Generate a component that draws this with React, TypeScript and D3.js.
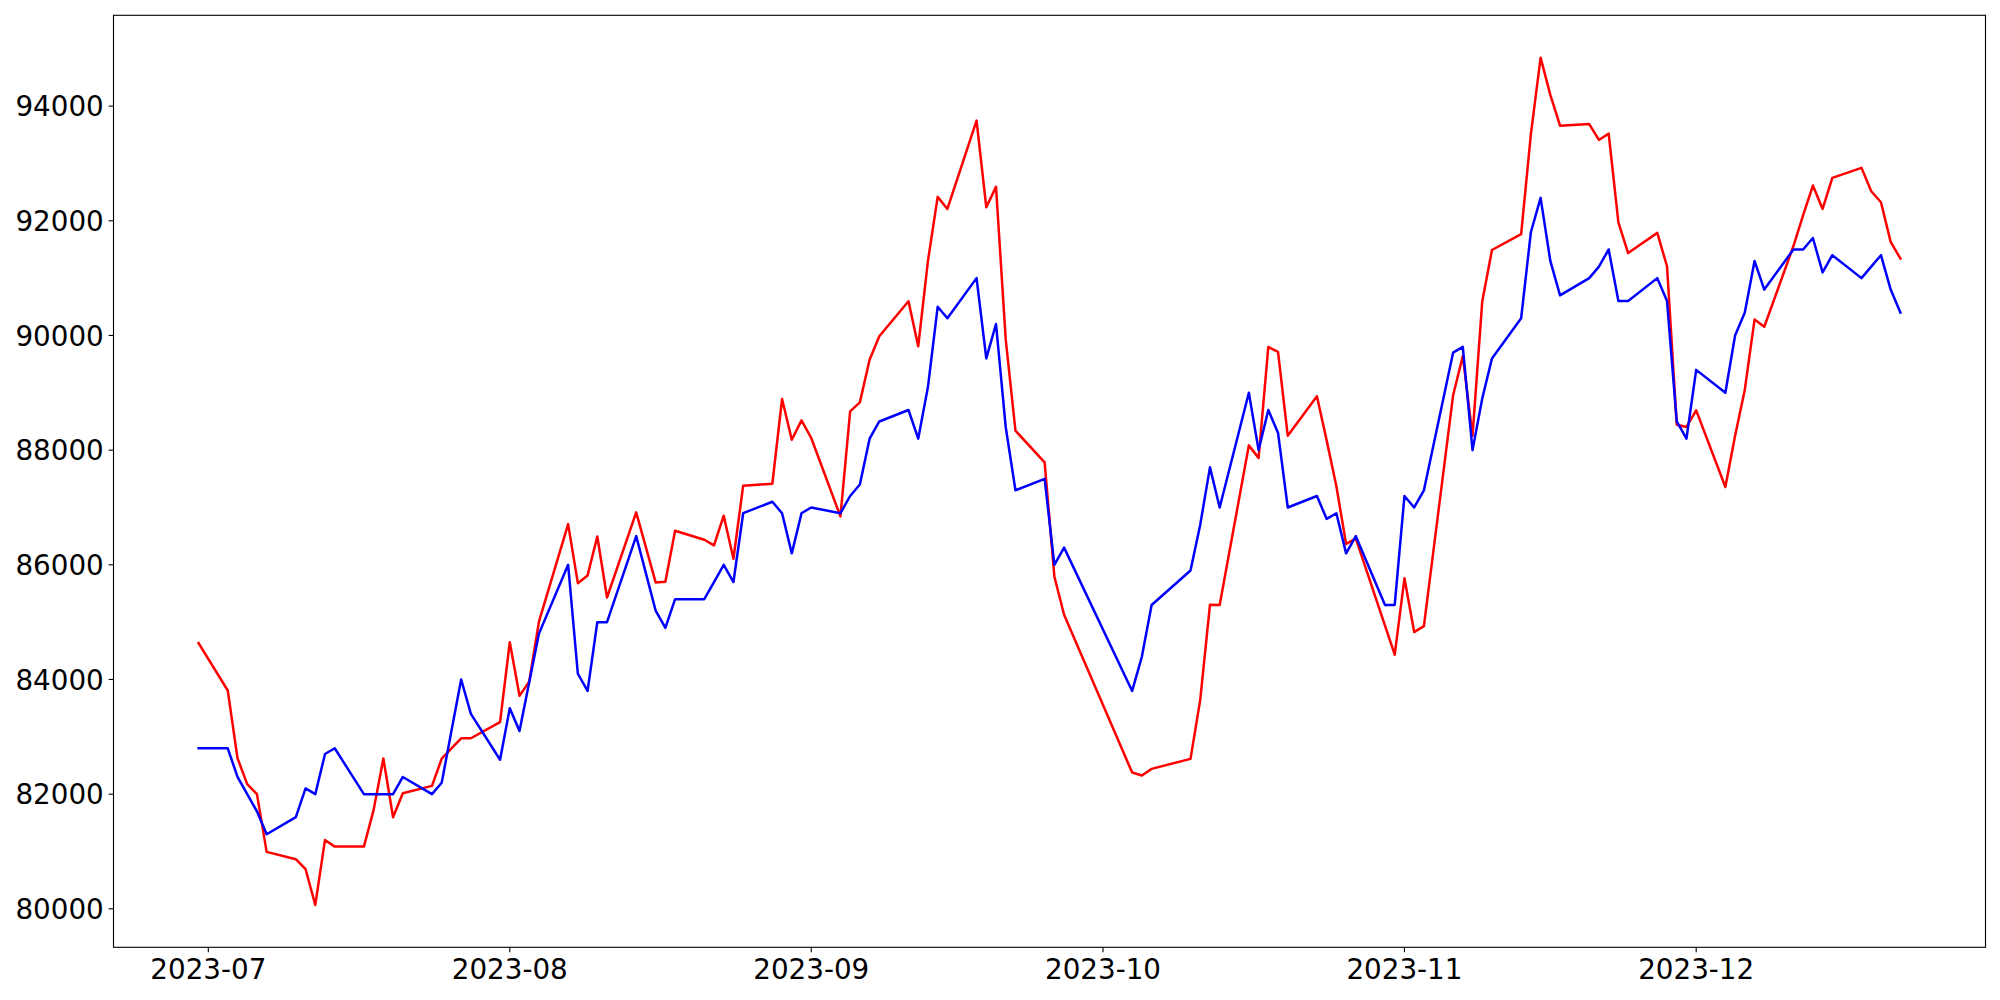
import React from "react";
import * as d3 from "d3";

const dates: string[] = [
  "2023-06-30",
  "2023-07-03", "2023-07-04", "2023-07-05", "2023-07-06", "2023-07-07",
  "2023-07-10", "2023-07-11", "2023-07-12", "2023-07-13", "2023-07-14",
  "2023-07-17", "2023-07-18", "2023-07-19", "2023-07-20", "2023-07-21",
  "2023-07-24", "2023-07-25", "2023-07-26", "2023-07-27", "2023-07-28",
  "2023-07-31", "2023-08-01", "2023-08-02", "2023-08-03", "2023-08-04",
  "2023-08-07", "2023-08-08", "2023-08-09", "2023-08-10", "2023-08-11",
  "2023-08-14", "2023-08-16", "2023-08-17", "2023-08-18",
  "2023-08-21", "2023-08-22", "2023-08-23", "2023-08-24", "2023-08-25",
  "2023-08-28", "2023-08-29", "2023-08-30", "2023-08-31", "2023-09-01",
  "2023-09-04", "2023-09-05", "2023-09-06", "2023-09-07", "2023-09-08",
  "2023-09-11", "2023-09-12", "2023-09-13", "2023-09-14", "2023-09-15",
  "2023-09-18", "2023-09-19", "2023-09-20", "2023-09-21", "2023-09-22",
  "2023-09-25", "2023-09-26", "2023-09-27",
  "2023-10-04", "2023-10-05", "2023-10-06",
  "2023-10-10", "2023-10-11", "2023-10-12", "2023-10-13",
  "2023-10-16", "2023-10-17", "2023-10-18", "2023-10-19", "2023-10-20",
  "2023-10-23", "2023-10-24", "2023-10-25", "2023-10-26", "2023-10-27",
  "2023-10-30", "2023-10-31", "2023-11-01", "2023-11-02", "2023-11-03",
  "2023-11-06", "2023-11-07", "2023-11-08", "2023-11-09", "2023-11-10",
  "2023-11-13", "2023-11-14", "2023-11-15", "2023-11-16", "2023-11-17",
  "2023-11-20", "2023-11-21", "2023-11-22", "2023-11-23", "2023-11-24",
  "2023-11-27", "2023-11-28", "2023-11-29", "2023-11-30", "2023-12-01",
  "2023-12-04", "2023-12-05", "2023-12-06", "2023-12-07", "2023-12-08",
  "2023-12-11", "2023-12-12", "2023-12-13", "2023-12-14", "2023-12-15",
  "2023-12-18", "2023-12-19", "2023-12-20", "2023-12-21", "2023-12-22",
];

const redValues: number[] = [
  84635,
  83808, 82628, 82174, 82000, 80993,
  80866, 80691, 80068, 81202, 81085,
  81085, 81726, 82621, 81598, 82017,
  82144, 82620, 82800, 82975, 82975,
  83255, 84650, 83715, 83965, 85010,
  86710, 85680, 85815, 86495, 85430,
  86914, 85693, 85705, 86594,
  86437, 86338, 86856, 86106, 87380,
  87414, 88892, 88182, 88519, 88212,
  86844, 88676, 88833, 89578, 89985,
  90596, 89811, 91300, 92417, 92207,
  93748, 92236, 92592, 89927, 88339,
  87786, 85797, 85128,
  82377, 82325, 82441,
  82616, 83645, 85303, 85300,
  88083, 87862, 89799, 89712, 88252,
  88938, 88170, 87370, 86364, 86455,
  84940, 84432, 85764, 84827, 84930,
  88952, 89643, 88250, 90594, 91491,
  91768, 93507, 94845, 94196, 93658,
  93686, 93410, 93520, 91974, 91437,
  91789, 91207, 88444, 88404, 88694,
  87357, 88250, 89055, 90277, 90150,
  91560, 92100, 92615, 92207, 92748,
  92923, 92515, 92323, 91632, 91341,
];

const blueValues: number[] = [
  82800,
  82800, 82300, 82000, 81700, 81300,
  81600, 82100, 82000, 82700, 82800,
  82000, 82000, 82000, 82000, 82300,
  82000, 82200, 83100, 84000, 83400,
  82600, 83500, 83100, 83950, 84800,
  86000, 84100, 83800, 85000, 85000,
  86500, 85200, 84900, 85400,
  85400, 85700, 86000, 85700, 86900,
  87100, 86900, 86200, 86900, 87000,
  86900, 87200, 87400, 88200, 88500,
  88700, 88200, 89100, 90500, 90300,
  91000, 89600, 90200, 88400, 87300,
  87500, 86000, 86300,
  83800, 84400, 85300,
  85900, 86700, 87700, 87000,
  89000, 88000, 88700, 88300, 87000,
  87200, 86800, 86900, 86200, 86500,
  85300, 85300, 87200, 87000, 87300,
  89700, 89800, 88000, 88900, 89600,
  90300, 91800, 92400, 91300, 90700,
  91000, 91200, 91500, 90600, 90600,
  91000, 90600, 88500, 88200, 89400,
  89000, 90000, 90400, 91300, 90800,
  91500, 91500, 91700, 91100, 91400,
  91000, 91200, 91400, 90800, 90400,
];

const xTickLabels: string[] = ["2023-07", "2023-08", "2023-09", "2023-10", "2023-11", "2023-12"];
const yTickValues: number[] = [80000, 82000, 84000, 86000, 88000, 90000, 92000, 94000];

const W = 2000;
const H = 1000;
const left = 113.5;
const right = 1985.5;
const top = 15.3;
const bottom = 947.3;
const FONT = "'DejaVu Sans', sans-serif";
const FS = 27.78;
const TICK = 4.86;

export default function App() {
  const parse = d3.utcParse("%Y-%m-%d");
  const xs = dates.map((d) => parse(d) as Date);
  const t0 = xs[0].getTime();
  const t1 = xs[xs.length - 1].getTime();
  const xp = (t1 - t0) * 0.05;
  const x = d3.scaleUtc().domain([new Date(t0 - xp), new Date(t1 + xp)]).range([left, right]);

  const all = [...redValues, ...blueValues];
  const [mn, mx] = d3.extent(all) as [number, number];
  const yp = (mx - mn) * 0.05;
  const y = d3.scaleLinear().domain([mn - yp, mx + yp]).range([bottom, top]);

  const line = d3
    .line<number>()
    .x((_, i) => x(xs[i]))
    .y((v) => y(v));

  const xTicks = xTickLabels.map((s) => ({ label: s, date: parse(s + "-01") as Date }));

  return (
    <svg
      width={W}
      height={H}
      style={{ position: "absolute", left: 0, top: 0, background: "#fff" }}
      fontFamily={FONT}
    >
      <rect x={0} y={0} width={W} height={H} fill="#fff" />
      <path d={line(redValues) || ""} fill="none" stroke="#ff0000" strokeWidth={2.5} strokeLinejoin="round" strokeLinecap="square" />
      <path d={line(blueValues) || ""} fill="none" stroke="#0000ff" strokeWidth={2.5} strokeLinejoin="round" strokeLinecap="square" />
      <rect x={left} y={top} width={right - left} height={bottom - top} fill="none" stroke="#000" strokeWidth={1.1} />
      {yTickValues.map((v) => (
        <g key={v}>
          <line x1={left - TICK} x2={left} y1={y(v)} y2={y(v)} stroke="#000" strokeWidth={1.1} />
          <text x={left - TICK - 4.86} y={y(v) + 10.2} textAnchor="end" fontSize={FS} fill="#000">
            {v}
          </text>
        </g>
      ))}
      {xTicks.map((t) => (
        <g key={t.label}>
          <line x1={x(t.date)} x2={x(t.date)} y1={bottom} y2={bottom + TICK} stroke="#000" strokeWidth={1.1} />
          <text x={x(t.date)} y={bottom + 32} textAnchor="middle" fontSize={FS} fill="#000">
            {t.label}
          </text>
        </g>
      ))}
    </svg>
  );
}
